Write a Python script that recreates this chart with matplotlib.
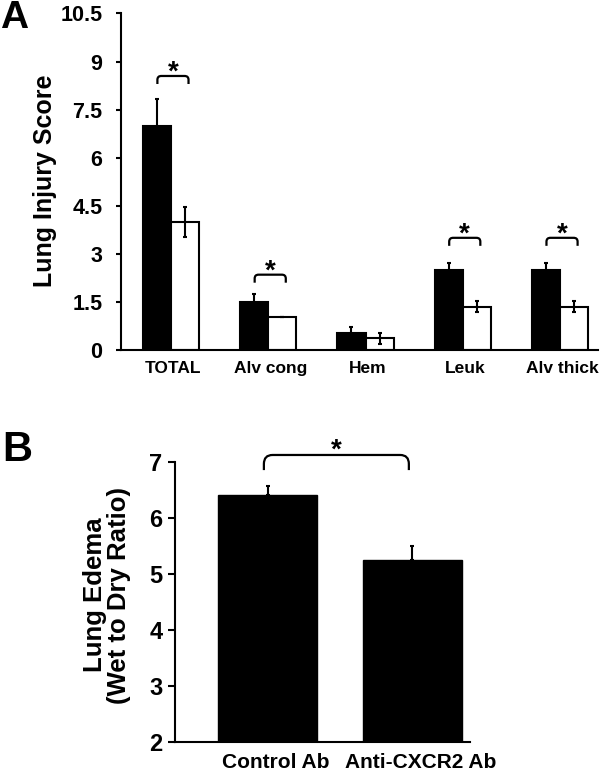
import matplotlib
matplotlib.use("Agg")
import matplotlib.pyplot as plt
import numpy as np
from matplotlib.path import Path
from matplotlib.patches import PathPatch

plt.rcParams['font.family'] = ['Liberation Sans', 'DejaVu Sans']
plt.rcParams['font.weight'] = 'bold'

# Panel A data
categories_a = ["TOTAL", "Alv cong", "Hem", "Leuk", "Alv thick"]
control_a = [7.0, 1.5, 0.52, 2.5, 2.5]
control_err_a = [0.82, 0.25, 0.2, 0.22, 0.22]
treated_a = [4.0, 1.02, 0.37, 1.35, 1.35]
treated_err_a = [0.46, 0.0, 0.17, 0.17, 0.17]
sig_a = [True, True, False, True, True]
yticks_a = [0, 1.5, 3, 4.5, 6, 7.5, 9, 10.5]
ytick_labels_a = ["0", "1.5", "3", "4.5", "6", "7.5", "9", "10.5"]

# Panel B data
categories_b = ["Control Ab", "Anti-CXCR2 Ab"]
values_b = [6.41, 5.245]
err_b = [0.16, 0.255]
yticks_b = [2, 3, 4, 5, 6, 7]

fig = plt.figure(figsize=(6, 7.75), dpi=100)


def bracket(ax, x0, x1, ytop, drop, r_x, r_y, lw=1.6):
    verts = [
        (x0, ytop - drop),
        (x0, ytop - r_y), (x0, ytop), (x0 + r_x, ytop),
        (x1 - r_x, ytop),
        (x1, ytop), (x1, ytop - r_y),
        (x1, ytop - drop),
    ]
    codes = [Path.MOVETO, Path.LINETO, Path.CURVE3, Path.CURVE3,
             Path.LINETO, Path.CURVE3, Path.CURVE3, Path.LINETO]
    p = PathPatch(Path(verts, codes), fill=False, lw=lw, color='black',
                  clip_on=False, capstyle='butt')
    ax.add_patch(p)


# ---------- Panel A ----------
axA = fig.add_axes([0.2017, 0.5484, 0.795, 0.4342])
x = np.arange(len(categories_a))
w = 0.29
axA.bar(x - w / 2, control_a, w, color='black', edgecolor='black', lw=1.5)
axA.bar(x + w / 2, treated_a, w, color='white', edgecolor='black', lw=1.5)
axA.errorbar(x - w / 2, control_a, yerr=control_err_a, fmt='none',
             ecolor='black', elinewidth=1.5, capsize=1.5, capthick=1.5)
axA.errorbar(x + w / 2, treated_a, yerr=treated_err_a, fmt='none',
             ecolor='black', elinewidth=1.5, capsize=1.5, capthick=1.5)
axA.set_xlim(-0.514, 4.39)
axA.set_ylim(0, 10.5)
axA.set_yticks(yticks_a)
axA.set_yticklabels(ytick_labels_a, fontsize=15.5, fontweight='bold')
axA.set_xticks(x + 0.02)
axA.set_xticklabels(categories_a, fontsize=12.5, fontweight='bold')
axA.tick_params(axis='x', length=0, pad=8)
axA.tick_params(axis='y', length=3.5, width=1.5, pad=10)
for s in ['top', 'right']:
    axA.spines[s].set_visible(False)
for s in ['left', 'bottom']:
    axA.spines[s].set_linewidth(1.5)
fig.text(45 / 600, 1 - 181 / 775, "Lung Injury Score", rotation=90,
         ha='center', va='center', fontsize=18, fontweight='bold')

brk_top = [8.55, 2.35, None, 3.5, 3.5]
for i, s in enumerate(sig_a):
    if not s:
        continue
    x0 = i - 0.14
    x1 = i + 0.18
    yt = brk_top[i]
    bracket(axA, x0, x1, yt, 0.25, 0.04, 0.12)
    axA.text((x0 + x1) / 2, yt - 0.12, "*", ha='center', va='baseline',
             fontsize=20, fontweight='bold')

fig.text(0.0, 1.0, "A", fontsize=28, fontweight='bold', ha='left', va='top')

# ---------- Panel B ----------
axB = fig.add_axes([0.2917, 0.0426, 0.4917, 0.3613])
xb = np.arange(len(categories_b))
axB.bar(xb, values_b, 0.683, color='black', edgecolor='black')
axB.errorbar(xb, values_b, yerr=[[0, 0], err_b], fmt='none', ecolor='black',
             elinewidth=1.5, capsize=1.2, capthick=1.5)
axB.set_xlim(-0.638, 1.397)
axB.set_ylim(2, 7)
axB.set_yticks(yticks_b)
axB.set_yticklabels([str(v) for v in yticks_b], fontsize=17, fontweight='bold')
axB.set_xticks(xb + 0.06)
axB.set_xticklabels(categories_b, fontsize=15, fontweight='bold')
axB.tick_params(axis='x', length=0, pad=8)
axB.tick_params(axis='y', length=5, width=1.5, pad=4)
for s in ['top', 'right']:
    axB.spines[s].set_visible(False)
for s in ['left', 'bottom']:
    axB.spines[s].set_linewidth(1.5)
fig.text(107 / 600, 1 - 595 / 775, "Lung Edema\n(Wet to Dry Ratio)", rotation=90,
         ha='center', va='center', fontsize=18.5, fontweight='bold',
         linespacing=1.05, multialignment='center')

bracket(axB, -0.025, 0.975, 7.125, 0.27, 0.06, 0.16)
axB.text(0.475, 7.07, "*", ha='center', va='baseline', fontsize=20,
         fontweight='bold')

fig.text(0.003, 0.445, "B", fontsize=30, fontweight='bold', ha='left', va='top')

fig.savefig("out.png", dpi=100)
